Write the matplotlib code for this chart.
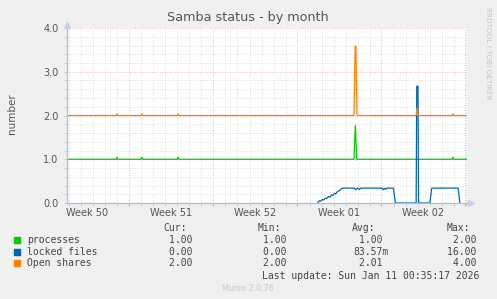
import numpy as np
import matplotlib
matplotlib.use('Agg')
import matplotlib.pyplot as plt
import matplotlib.transforms as mtransforms
from matplotlib.patches import Rectangle

# x values are days since the left edge of the graph (33.2 days shown)
span_days = 33.2
week_starts = [5.15, 12.12, 19.09, 26.06, 33.03]
week_labels = ['Week 50', 'Week 51', 'Week 52', 'Week 01', 'Week 02']
week_label_pos = [1.65, 8.62, 15.59, 22.56, 29.53]

# processes (green)
proc_days = [0, 4.08, 4.15, 4.22, 6.15, 6.22, 6.29, 9.14, 9.21, 9.28,
             23.82, 23.93, 24.05, 31.96, 32.03, 32.10, 33.2]
proc_vals = [1, 1, 1.05, 1, 1, 1.05, 1, 1, 1.05, 1,
             1.0, 1.78, 1.0, 1, 1.05, 1, 1]

# locked files (blue), unknown outside the shown range
lock_days = [20.80, 20.95, 21.05, 21.2, 21.3, 21.45, 21.55, 21.7, 21.8, 21.95,
             22.05, 22.2, 22.3, 22.45, 22.6, 22.75, 22.9, 23.85, 23.95, 24.1,
             24.25, 24.4, 24.6, 26.15, 26.25, 26.35, 26.45, 26.55, 27.1, 27.25,
             28.98, 29.03, 29.13, 29.18, 30.12, 30.27, 32.47, 32.60]
lock_vals = [0.0, 0.05, 0.04, 0.08, 0.07, 0.11, 0.10, 0.15, 0.13, 0.18,
             0.17, 0.22, 0.21, 0.26, 0.28, 0.32, 0.34, 0.34, 0.30, 0.34,
             0.31, 0.34, 0.34, 0.34, 0.30, 0.34, 0.31, 0.34, 0.34, 0.0,
             0.0, 2.67, 2.67, 0.0, 0.0, 0.34, 0.34, 0.0]

# open shares (orange)
share_days = [0, 4.08, 4.15, 4.22, 6.15, 6.22, 6.29, 9.14, 9.21, 9.28,
              23.82, 23.92, 23.98, 24.07, 28.98, 29.05, 29.13,
              31.96, 32.03, 32.10, 33.2]
share_vals = [2, 2, 2.04, 2, 2, 2.04, 2, 2, 2.04, 2,
              2.0, 3.59, 3.59, 2.0, 2.0, 2.17, 2.0,
              2, 2.04, 2, 2]

series = [('processes', '#00CC00', proc_days, proc_vals),
          ('locked files', '#0066B3', lock_days, lock_vals),
          ('Open shares', '#FF8000', share_days, share_vals)]

legend_rows = [('processes', '1.00', '1.00', '1.00', '2.00'),
               ('locked files', '0.00', '0.00', '83.57m', '16.00'),
               ('Open shares', '2.00', '2.00', '2.01', '4.00')]

W, H = 497, 299
fig = plt.figure(figsize=(W / 100, H / 100), dpi=100, facecolor='#F0F0F0')
ax = fig.add_axes([67 / W, 96 / H, 400 / W, 175 / H])
ax.set_facecolor('white')

for name, color, xs, ys in series:
    ax.plot(xs, ys, color=color, lw=0.9, solid_joinstyle='miter')

ax.set_xlim(0, span_days)
ax.set_ylim(0, 4)

# grid: minor lines skip the positions of the major ones
day_lines = [d for d in np.arange(0.15, span_days, 1.0)
             if min(abs(d - w) for w in week_starts) > 0.1]
y_minor = [v for v in np.arange(0, 4.01, 0.2) if abs(v - round(v)) > 0.05]
ax.set_xticks(week_starts)
ax.set_xticklabels([])
ax.set_xticks(day_lines, minor=True)
ax.set_yticks([0, 1, 2, 3, 4])
ax.set_yticklabels(['0.0', '1.0', '2.0', '3.0', '4.0'])
ax.set_yticks(y_minor, minor=True)
ax.grid(which='minor', color='#d4d4d4', lw=0.6, linestyle=(0, (1, 2)))
ax.grid(which='major', color='#eea0a0', lw=0.6, linestyle=(0, (1, 2)))
ax.set_axisbelow(True)

ax.tick_params(axis='y', which='both', length=2, color='#c8c8c8', pad=4,
               labelsize=7, labelcolor='#555555')
ax.tick_params(axis='x', which='both', length=2, color='#c8c8c8')
ax.tick_params(axis='x', which='major', color='#eea0a0')

for s in ['top', 'right']:
    ax.spines[s].set_visible(False)
for s in ['left', 'bottom']:
    ax.spines[s].set_color('#b0bce8')
    ax.spines[s].set_linewidth(0.9)

# axis arrows
ax.plot([0], [1.02], marker='^', ms=4, color='#c8d0f0', transform=ax.transAxes,
        clip_on=False)
ax.plot([1.01], [0], marker='>', ms=4, color='#c8d0f0', transform=ax.transAxes,
        clip_on=False)

trans = mtransforms.blended_transform_factory(ax.transData, fig.transFigure)
for pos, lab in zip(week_label_pos, week_labels):
    ax.text(pos, 1 - 212.5 / H, lab, transform=trans, ha='center', va='center',
            fontsize=7, color='#555555')

fig.text(248 / W, 1 - 18 / H, 'Samba status - by month', ha='center',
         va='center', fontsize=9.2, color='#555555')
fig.text(12 / W, 1 - 114 / H, 'number', rotation=90, ha='center', va='center',
         fontsize=7.5, color='#555555')
fig.text(488 / W, 1 - 53 / H, 'RRDTOOL / TOBI OETIKER', rotation=-90,
         ha='center', va='center', fontsize=5.2, color='#c4c4c4')

mono = dict(family='DejaVu Sans Mono', fontsize=7, color='#444444', va='center')
hy = 1 - 227.7 / H
fig.text(163.3 / W, hy, 'Cur:', **mono)
fig.text(257.3 / W, hy, 'Min:', **mono)
fig.text(351.7 / W, hy, 'Avg:', **mono)
fig.text(446.7 / W, hy, 'Max:', **mono)

row_y = [240.0, 251.7, 263.3]
for (name, cur, mn, avg, mx), (_, color, _, _), y in zip(legend_rows, series, row_y):
    fy = 1 - y / H
    fig.patches.append(Rectangle((14 / W, fy - 3 / H), 6 / W, 6 / H,
                                 transform=fig.transFigure, color=color))
    fig.text(26.7 / W, fy, name, **mono)
    fig.text(198 / W, fy, cur + ' ', ha='right', **mono)
    fig.text(292.5 / W, fy, mn + ' ', ha='right', **mono)
    fig.text(388.3 / W, fy, (avg if avg.endswith('m') else avg + ' '), ha='right', **mono)
    fig.text(482.5 / W, fy, mx + ' ', ha='right', **mono)

fig.text(261.7 / W, 1 - 275.7 / H, 'Last update: Sun Jan 11 00:35:17 2026', **mono)
fig.text(248 / W, 1 - 288.5 / H, 'Munin 2.0.76', ha='center', va='center',
         fontsize=5.8, color='#c8c8c8')

fig.savefig('out.png', dpi=100, facecolor=fig.get_facecolor())
